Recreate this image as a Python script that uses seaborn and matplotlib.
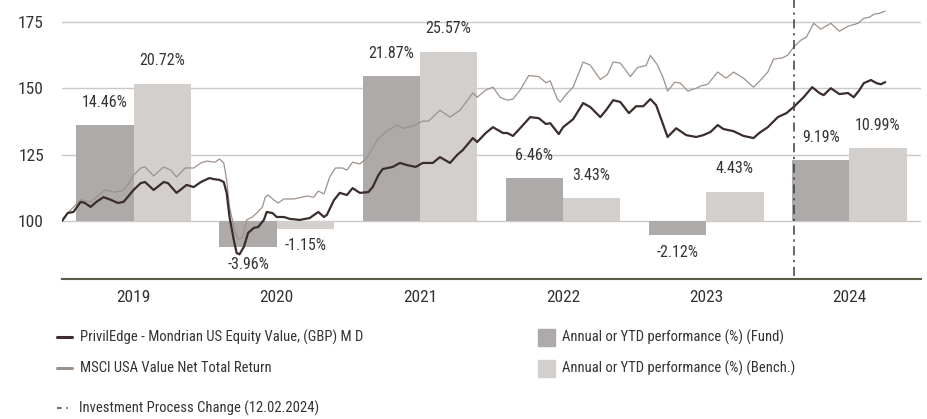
import numpy as np
import pandas as pd
import matplotlib.pyplot as plt
from matplotlib.lines import Line2D
from matplotlib.patches import Rectangle
import seaborn as sns

sns.set_style("white")
plt.rcParams['font.family'] = ['Roboto Condensed', 'Liberation Sans', 'DejaVu Sans']

# %%
# annual / YTD performance (%)
years = [2019, 2020, 2021, 2022, 2023, 2024]
fund_perf = [14.46, -3.96, 21.87, 6.46, -2.12, 9.19]
bench_perf = [20.72, -1.15, 25.57, 3.43, 4.43, 10.99]

# indexed performance, time in years since 1 Jan 2019
fund_t = [0.00, 0.04, 0.08, 0.13, 0.16, 0.20, 0.24, 0.29, 0.34, 0.39, 0.43, 0.50,
          0.55, 0.58, 0.64, 0.71, 0.74, 0.80, 0.87, 0.92, 0.97, 1.03, 1.06, 1.10,
          1.13, 1.15, 1.17, 1.20, 1.22, 1.24, 1.27, 1.30, 1.34, 1.37, 1.41, 1.43,
          1.47, 1.50, 1.55, 1.59, 1.66, 1.73, 1.79, 1.83, 1.85, 1.90, 1.94, 1.99,
          2.03, 2.08, 2.14, 2.17, 2.21, 2.24, 2.31, 2.36, 2.41, 2.47, 2.52, 2.59,
          2.64, 2.71, 2.76, 2.80, 2.87, 2.90, 2.96, 3.01, 3.08, 3.11, 3.15, 3.20,
          3.27, 3.33, 3.38, 3.41, 3.47, 3.50, 3.57, 3.64, 3.69, 3.76, 3.80, 3.85,
          3.90, 3.96, 4.01, 4.06, 4.11, 4.15, 4.18, 4.23, 4.29, 4.36, 4.43, 4.48,
          4.53, 4.58, 4.62, 4.69, 4.76, 4.83, 4.87, 4.93, 5.00, 5.06, 5.11, 5.18,
          5.24, 5.29, 5.32, 5.37, 5.43, 5.49, 5.53, 5.57, 5.60, 5.65, 5.69, 5.72,
          5.75]
fund_val = [100, 103, 103.4, 107.2, 106.8, 105.3, 107.2, 109, 108, 106.8, 107.2, 111.7,
            114.3, 114.7, 111.7, 114.7, 114.3, 110.6, 113.6, 112.8, 114.7, 116.2, 115.8, 115.5,
            114.7, 110.6, 101.5, 92.8, 87.9, 87.4, 90.2, 95.5, 97.4, 97.7, 100.4, 103.4,
            103, 101.5, 101.5, 100.8, 100.4, 101.1, 103.4, 101.5, 102.3, 107.9, 110.6, 109.8,
            112.4, 110.6, 110.9, 112.8, 117.3, 119.6, 120.4, 121.9, 121.1, 120.4, 121.9, 121.9,
            124.1, 121.9, 124.9, 126.8, 131.3, 129.8, 133.2, 135.4, 133.2, 133.2, 132.1, 135,
            139.2, 138.8, 136.6, 136.9, 132.8, 135.4, 138.4, 144.5, 143, 139.2, 141.8, 145.6,
            144.9, 140.7, 143.3, 143.3, 146, 143.7, 139.2, 131.7, 135, 132.4, 131.7, 132.4,
            133.6, 136.2, 134.7, 133.9, 132.1, 131.3, 133.2, 135.4, 139.2, 140.7, 143, 146.7,
            150.5, 148.3, 147.5, 150.1, 147.9, 148.3, 146.7, 149.4, 152, 153.2, 152, 151.6,
            152.4]

bench_t = [0.00, 0.04, 0.13, 0.20, 0.24, 0.30, 0.36, 0.42, 0.46, 0.50, 0.55, 0.58,
           0.64, 0.71, 0.76, 0.80, 0.86, 0.92, 0.97, 1.01, 1.07, 1.10, 1.13, 1.15,
           1.17, 1.21, 1.23, 1.26, 1.29, 1.33, 1.36, 1.40, 1.42, 1.44, 1.48, 1.51,
           1.55, 1.62, 1.71, 1.76, 1.79, 1.83, 1.87, 1.91, 1.96, 1.99, 2.03, 2.08,
           2.13, 2.20, 2.26, 2.34, 2.38, 2.45, 2.52, 2.56, 2.64, 2.71, 2.78, 2.87,
           2.90, 2.96, 3.01, 3.06, 3.11, 3.15, 3.20, 3.26, 3.33, 3.38, 3.41, 3.46,
           3.48, 3.53, 3.57, 3.64, 3.69, 3.76, 3.81, 3.85, 3.90, 3.97, 4.02, 4.08,
           4.11, 4.16, 4.20, 4.23, 4.28, 4.32, 4.37, 4.43, 4.46, 4.51, 4.58, 4.64,
           4.69, 4.76, 4.83, 4.88, 4.93, 4.97, 5.03, 5.07, 5.11, 5.16, 5.20, 5.25,
           5.30, 5.37, 5.43, 5.49, 5.56, 5.60, 5.64, 5.67, 5.71, 5.75]
bench_val = [100, 103, 108, 107.2, 109, 111.7, 110.9, 111.3, 113.6, 117.3, 120, 120.4,
             117, 120.4, 119.2, 116.6, 120, 120, 121.9, 122.6, 122.2, 123.4, 121.9, 115.5,
             105.3, 95.5, 93.2, 93.6, 100.4, 101.5, 103, 105.3, 109, 109.8, 107.9, 106.8,
             108.3, 108.3, 109.4, 109, 111.3, 110.2, 116.6, 120, 120, 119.2, 122.2, 121.5,
             123.8, 130.5, 133.6, 136.2, 135, 135.8, 137.7, 137.7, 141.8, 139.2, 141.8, 148.3,
             146.7, 149.4, 150.5, 146.7, 145.6, 146, 149.4, 154.9, 154.5, 152.2, 152.9, 146,
             144.9, 148.3, 150.5, 160, 158.8, 153.4, 155.3, 160, 159.6, 154.5, 157.9, 158.7,
             162.5, 158.8, 153.9, 149, 152.4, 152, 149, 150.1, 150.9, 151.6, 156.2, 153.9,
             156.2, 153.9, 150.5, 153.2, 156.2, 161.1, 161.5, 162.6, 165.6, 168.2, 169.4, 174.6,
             172.4, 174.6, 171.6, 173.5, 174.6, 176.5, 176.9, 178, 178.4, 179.2]

process_change = 2024 + 42 / 366  # 12.02.2024

fund_name = "PrivilEdge - Mondrian US Equity Value, (GBP) M D"
bench_name = "MSCI USA Value Net Total Return"
bar_fund_name = "Annual or YTD performance (%) (Fund)"
bar_bench_name = "Annual or YTD performance (%) (Bench.)"

c_fund_line = "#3a2d2c"
c_bench_line = "#9d928b"
c_fund_bar = "#aeaaa9"
c_bench_bar = "#d3cfcc"
c_text = "#333333"
c_axis = "#5c5c46"

# %%
df_bars = pd.DataFrame({
    'x': [y + 0.5 for y in years] * 2,
    'series': ['fund'] * len(years) + ['bench'] * len(years),
    'perf': fund_perf + bench_perf,
})
df_lines = pd.concat([
    pd.DataFrame({'x': [2019 + t for t in fund_t], 'val': fund_val, 'series': 'fund'}),
    pd.DataFrame({'x': [2019 + t for t in bench_t], 'val': bench_val, 'series': 'bench'}),
])

fig = plt.figure(figsize=(9.27, 4.19), dpi=100)
ax = fig.add_axes([62 / 927, 1 - 279 / 419, 859 / 927, 279 / 419])
ymin, ymax = 78.1, 183.4
ax.set_ylim(ymin, ymax)
ax.set_xlim(2019, 2025)

# bars on a twin axis: 0 % sits on the 100 line, 1 % = 2.5 index points
axb = ax.twinx()
sns.barplot(data=df_bars, x='x', y='perf', hue='series', hue_order=['fund', 'bench'],
            palette=[c_fund_bar, c_bench_bar], native_scale=True, width=0.8,
            saturation=1, errorbar=None, legend=False, linewidth=0, ax=axb)
axb.set_ylim((ymin - 100) / 2.5, (ymax - 100) / 2.5)

for i, y in enumerate(years):
    for val, dx in [(fund_perf[i], -0.2), (bench_perf[i], 0.2)]:
        off = 16.5 if val >= 0 else -12.5
        axb.annotate(f"{val:.2f}%", (y + 0.5 + dx, val), xytext=(0, off),
                     textcoords='offset points', ha='center', va='center',
                     fontsize=11.5, color=c_text)

# lines on another twin with the index scale
axl = ax.twinx()
sns.lineplot(data=df_lines[df_lines.series == 'bench'], x='x', y='val',
             color=c_bench_line, linewidth=0.9, ax=axl)
sns.lineplot(data=df_lines[df_lines.series == 'fund'], x='x', y='val',
             color=c_fund_line, linewidth=1.6, ax=axl)
axl.set_ylim(ymin, ymax)
axl.axvline(process_change, ymin=0.01, ymax=1, color='#3c3c3c', linewidth=1.1,
            linestyle=(0, (6, 3, 1.5, 3)))

for a in (axb, axl):
    a.set_yticks([])
    a.set_ylabel('')
    a.set_xlabel('')
    for s in a.spines.values():
        s.set_visible(False)

ax.set_xlim(2019, 2025)

# main axis styling
ax.set_yticks([100, 125, 150, 175])
ax.grid(axis='y', color='#c9c9c9', linewidth=1.0)
ax.tick_params(axis='y', length=0, pad=13, labelsize=12.5, labelcolor=c_text)
ax.set_xticks(range(2019, 2026))
ax.set_xticklabels([])
ax.set_xticks([y + 0.5 for y in years], minor=True)
ax.set_xticklabels([str(y) for y in years], minor=True)
ax.tick_params(axis='x', which='major', direction='out', length=6, width=1.3,
               color=c_axis)
ax.tick_params(axis='x', which='minor', length=0, pad=8, labelsize=12.5,
               labelcolor=c_text)
for s in ['top', 'right', 'left']:
    ax.spines[s].set_visible(False)
ax.spines['bottom'].set_color(c_axis)
ax.spines['bottom'].set_linewidth(1.5)

# legend
W, H = 927, 419


def fx(px):
    return px / W


def fy(py):
    return 1 - py / H


fs_leg = 10.5
fig.add_artist(Line2D([fx(57), fx(72)], [fy(337), fy(337)], color=c_fund_line, linewidth=2.2))
fig.text(fx(80), fy(337), fund_name, va='center', fontsize=fs_leg, color=c_text)
fig.add_artist(Line2D([fx(57), fx(72)], [fy(368), fy(368)], color=c_bench_line, linewidth=2.2))
fig.text(fx(80), fy(368), bench_name, va='center', fontsize=fs_leg, color=c_text)
fig.add_artist(Line2D([fx(57), fx(69)], [fy(408), fy(408)], color='#3c3c3c', linewidth=1.1,
                      linestyle=(0, (3, 3, 1, 3))))
fig.text(fx(79), fy(408), "Investment Process Change (12.02.2024)", va='center',
         fontsize=fs_leg, color=c_text)
fig.add_artist(Rectangle((fx(538), fy(346)), fx(17), 17 / H, color=c_fund_bar))
fig.text(fx(562), fy(337), bar_fund_name, va='center', fontsize=fs_leg, color=c_text)
fig.add_artist(Rectangle((fx(538), fy(377)), fx(17), 17 / H, color=c_bench_bar))
fig.text(fx(562), fy(368), bar_bench_name, va='center', fontsize=fs_leg, color=c_text)

fig.savefig("out.png", dpi=100)
